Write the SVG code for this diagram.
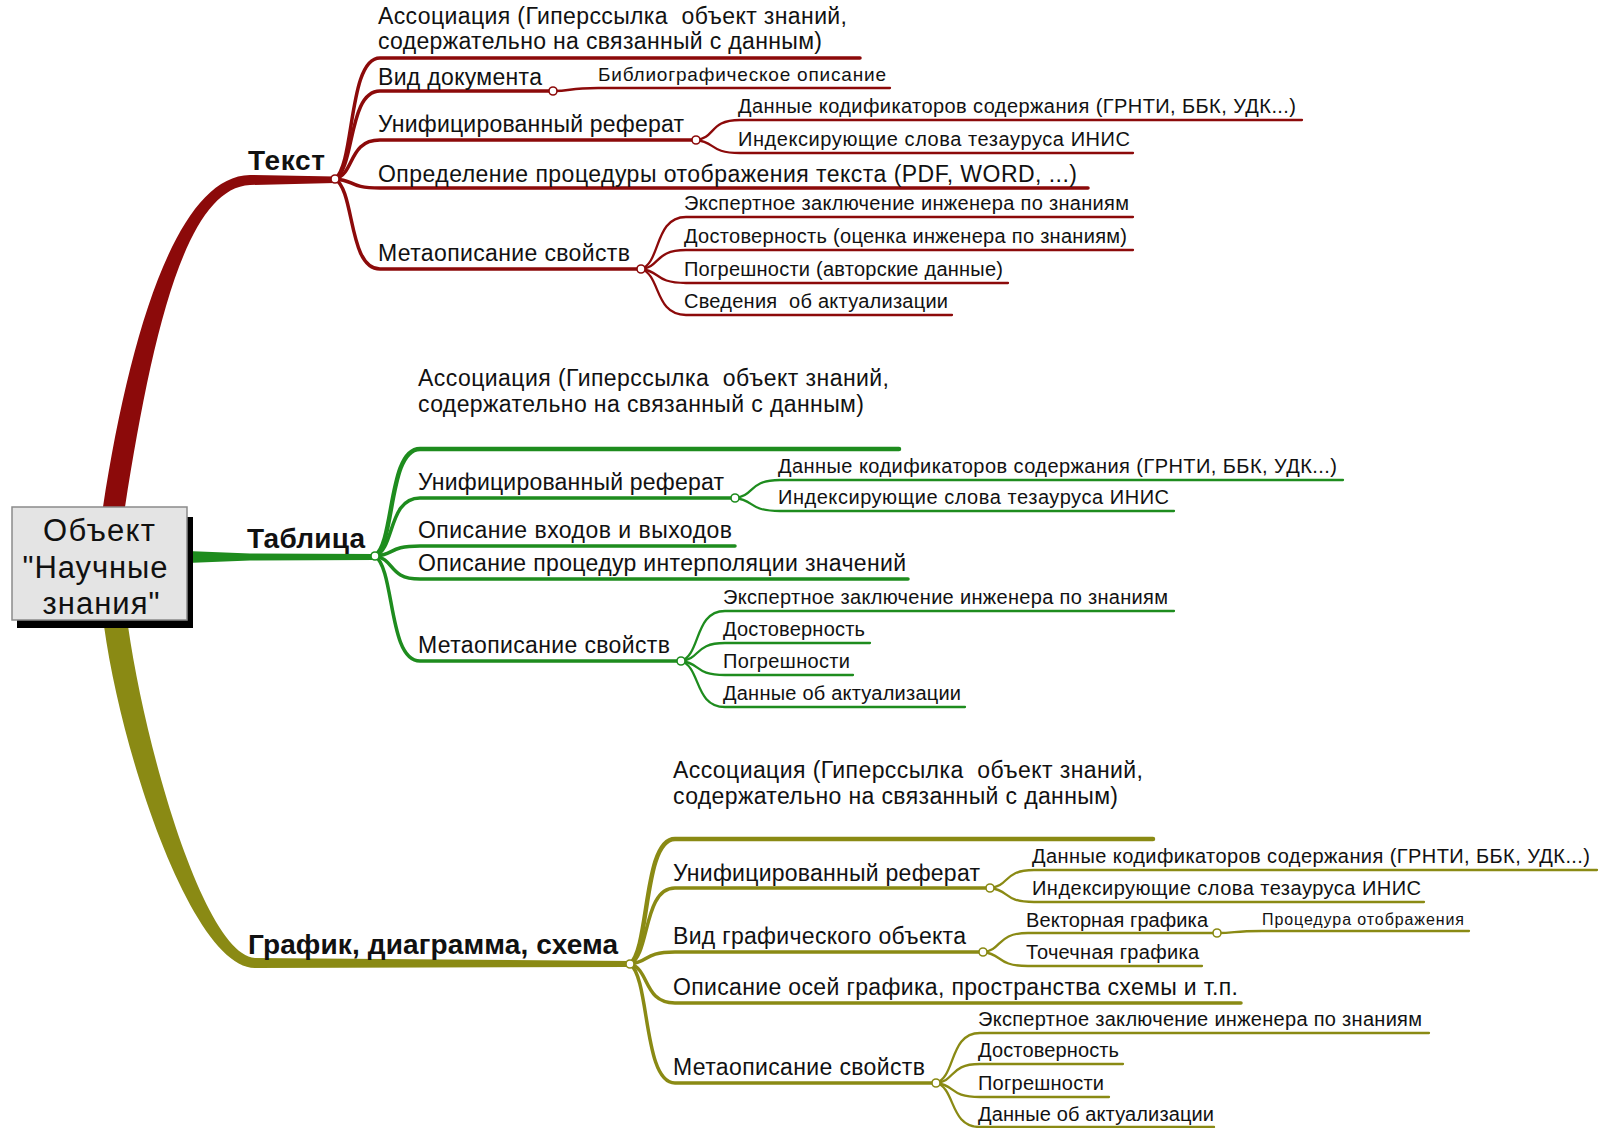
<svg xmlns="http://www.w3.org/2000/svg" width="1600" height="1128" viewBox="0 0 1600 1128">
<style>
text{font-family:"Liberation Sans",Arial,"Noto Sans",sans-serif;fill:#111;white-space:pre}
.c{font-size:31px;text-anchor:middle}
.m{font-size:28px;font-weight:bold}
.l1{font-size:23px}
.l2{font-size:20px}
.l3{font-size:16px}
.e{fill:none;stroke-linecap:round;stroke-linejoin:round}
.r{stroke:#8c0a0a}
.g{stroke:#1e8c1e}
.o{stroke:#8a8a14}
.w1{stroke-width:3.5}
.w2{stroke-width:2.3}
.dot{fill:#fff;stroke-width:1.6}
</style>
<rect width="1600" height="1128" fill="#fff"/>
<g id="connectors">
  <path d="M103,507 C129,338 176,176 250,175 L335,176.5 L335,183 L250,185 C184,188 151,342 125,507 Z" fill="#8c0a0a"/>
  <path d="M187,551 L250,553.5 L375,554 L375,560 L250,560.5 L187,563 Z" fill="#1e8c1e"/>
  <path d="M104,626 C123,762 194,968 255,968 L630,967 L630,961 L255,958 C206,955 147,758 128,626 Z" fill="#8a8a14"/>
  <g class="e r w1">
    <path d="M335,179 C355,164 348,58 380,58 L860,58"/>
    <path d="M335,179 C355,168 348,91 380,91 L553,91"/>
    <path d="M335,179 C355,174 348,140 380,140 L696,140"/>
    <path d="M335,179 C355,180 348,188 380,188 L1088,188"/>
    <path d="M335,179 C355,190 348,269 380,269 L641,269"/>
  </g>
  <g class="e r w2">
    <path d="M553,91 C573,91 567,88 598,88 L890,88"/>
    <path d="M696,140 C716,138 709,120 740,120 L1302,120"/>
    <path d="M696,140 C716,142 709,153 740,153 L1133,153"/>
    <path d="M641,269 C661,263 654,217 686,217 L1133,217"/>
    <path d="M641,269 C661,267 654,250 686,250 L1133,250"/>
    <path d="M641,269 C661,271 654,283 686,283 L1008,283"/>
    <path d="M641,269 C661,275 654,315 686,315 L952,315"/>
  </g>
  <g class="e g w1">
    <path d="M375,556 C395,543 388,449 420,449 L899,449" stroke-width="4.5"/>
    <path d="M375,556 C395,549 388,498 420,498 L735,498"/>
    <path d="M375,556 C395,555 388,546 420,546 L735,546"/>
    <path d="M375,556 C395,559 388,579 420,579 L908,579"/>
    <path d="M375,556 C395,569 388,661 420,661 L681,661"/>
  </g>
  <g class="e g w2">
    <path d="M735,498 C755,496 748,480 780,480 L1343,480"/>
    <path d="M735,498 C755,500 748,511 780,511 L1174,511"/>
    <path d="M681,661 C701,655 694,611 725,611 L1174,611"/>
    <path d="M681,661 C701,659 694,643 725,643 L870,643"/>
    <path d="M681,661 C701,663 694,675 725,675 L853,675"/>
    <path d="M681,661 C701,667 694,707 725,707 L965,707"/>
  </g>
  <g class="e o w1">
    <path d="M630,964 C650,949 643,839 675,839 L1153,839" stroke-width="4.5"/>
    <path d="M630,964 C650,955 643,888 675,888 L990,888"/>
    <path d="M630,964 C650,962 643,952 675,952 L983,952"/>
    <path d="M630,964 C650,969 643,1003 675,1003 L1241,1003"/>
    <path d="M630,964 C650,978 643,1083 675,1083 L936,1083"/>
  </g>
  <g class="e o w2">
    <path d="M990,888 C1010,886 1003,870 1034,870 L1597,870"/>
    <path d="M990,888 C1010,890 1003,902 1034,902 L1424,902"/>
    <path d="M983,952 C1003,950 996,933 1028,933 L1217,933"/>
    <path d="M983,952 C1003,954 996,966 1028,966 L1202,966"/>
    <path d="M1217,933 C1237,933 1232,931 1262,931 L1469,931"/>
    <path d="M936,1083 C956,1077 949,1033 980,1033 L1429,1033"/>
    <path d="M936,1083 C956,1081 949,1064 980,1064 L1123,1064"/>
    <path d="M936,1083 C956,1085 949,1097 980,1097 L1109,1097"/>
    <path d="M936,1083 C956,1088 949,1127 980,1127 L1214,1127"/>
  </g>
</g>

<g id="root">
  <rect x="17" y="517" width="176" height="111" fill="#000"/>
  <rect x="12" y="507" width="175" height="113" fill="#e4e4e4" stroke="#8a8a8a" stroke-width="1.5"/>
  <text class="c" x="99" y="541" textLength="112">Объект</text>
  <text class="c" x="95" y="578" textLength="145">"Научные</text>
  <text class="c" x="101" y="614" textLength="117">знания"</text>
</g>

<g id="n-text">
  <text class="m" x="248" y="170" textLength="77">Текст</text>
  <circle class="dot r" cx="335" cy="179" r="4"/>
</g>
<g id="n-text-assoc">
  <text class="l1" x="378" y="24" textLength="469">Ассоциация (Гиперссылка  объект знаний,</text>
  <text class="l1" x="378" y="49" textLength="444">содержательно на связанный с данным)</text>
</g>
<g id="n-text-vid">
  <text class="l1" x="378" y="85" textLength="164">Вид документа</text>
  <circle class="dot r" cx="553" cy="91" r="4"/>
</g>
<g id="n-text-bibl"><text class="l2" x="598" y="81" textLength="288" style="font-size:19px">Библиографическое описание</text></g>
<g id="n-text-unif">
  <text class="l1" x="378" y="132" textLength="306">Унифицированный реферат</text>
  <circle class="dot r" cx="696" cy="140" r="4"/>
</g>
<g id="n-text-codes"><text class="l2" x="738" y="113" textLength="558">Данные кодификаторов содержания (ГРНТИ, ББК, УДК...)</text></g>
<g id="n-text-inis"><text class="l2" x="738" y="146" textLength="392">Индексирующие слова тезауруса ИНИС</text></g>
<g id="n-text-proc"><text class="l1" x="378" y="182" textLength="699">Определение процедуры отображения текста (PDF, WORD, ...)</text></g>
<g id="n-text-meta">
  <text class="l1" x="378" y="261" textLength="252">Метаописание свойств</text>
  <circle class="dot r" cx="641" cy="269" r="4"/>
</g>
<g id="n-text-expert"><text class="l2" x="684" y="210" textLength="445">Экспертное заключение инженера по знаниям</text></g>
<g id="n-text-dost"><text class="l2" x="684" y="243" textLength="443">Достоверность (оценка инженера по знаниям)</text></g>
<g id="n-text-pogr"><text class="l2" x="684" y="276" textLength="319">Погрешности (авторские данные)</text></g>
<g id="n-text-sved"><text class="l2" x="684" y="308" textLength="264">Сведения  об актуализации</text></g>

<g id="n-table">
  <text class="m" x="247" y="548" textLength="118">Таблица</text>
  <circle class="dot g" cx="375" cy="556" r="4"/>
</g>
<g id="n-table-assoc">
  <text class="l1" x="418" y="386" textLength="471">Ассоциация (Гиперссылка  объект знаний,</text>
  <text class="l1" x="418" y="412" textLength="446">содержательно на связанный с данным)</text>
</g>
<g id="n-table-unif">
  <text class="l1" x="418" y="490" textLength="306">Унифицированный реферат</text>
  <circle class="dot g" cx="735" cy="498" r="4"/>
</g>
<g id="n-table-codes"><text class="l2" x="778" y="473" textLength="559">Данные кодификаторов содержания (ГРНТИ, ББК, УДК...)</text></g>
<g id="n-table-inis"><text class="l2" x="778" y="504" textLength="391">Индексирующие слова тезауруса ИНИС</text></g>
<g id="n-table-io"><text class="l1" x="418" y="538" textLength="314">Описание входов и выходов</text></g>
<g id="n-table-interp"><text class="l1" x="418" y="571" textLength="488">Описание процедур интерполяции значений</text></g>
<g id="n-table-meta">
  <text class="l1" x="418" y="653" textLength="252">Метаописание свойств</text>
  <circle class="dot g" cx="681" cy="661" r="4"/>
</g>
<g id="n-table-expert"><text class="l2" x="723" y="604" textLength="445">Экспертное заключение инженера по знаниям</text></g>
<g id="n-table-dost"><text class="l2" x="723" y="636" textLength="142">Достоверность</text></g>
<g id="n-table-pogr"><text class="l2" x="723" y="668" textLength="127">Погрешности</text></g>
<g id="n-table-akt"><text class="l2" x="723" y="700" textLength="238">Данные об актуализации</text></g>

<g id="n-graph">
  <text class="m" x="248" y="954" textLength="370">График, диаграмма, схема</text>
  <circle class="dot o" cx="630" cy="964" r="4"/>
</g>
<g id="n-graph-assoc">
  <text class="l1" x="673" y="778" textLength="470">Ассоциация (Гиперссылка  объект знаний,</text>
  <text class="l1" x="673" y="804" textLength="445">содержательно на связанный с данным)</text>
</g>
<g id="n-graph-unif">
  <text class="l1" x="673" y="881" textLength="307">Унифицированный реферат</text>
  <circle class="dot o" cx="990" cy="888" r="4"/>
</g>
<g id="n-graph-codes"><text class="l2" x="1032" y="863" textLength="558">Данные кодификаторов содержания (ГРНТИ, ББК, УДК...)</text></g>
<g id="n-graph-inis"><text class="l2" x="1032" y="895" textLength="389">Индексирующие слова тезауруса ИНИС</text></g>
<g id="n-graph-vid">
  <text class="l1" x="673" y="944" textLength="293">Вид графического объекта</text>
  <circle class="dot o" cx="983" cy="952" r="4"/>
</g>
<g id="n-graph-vector">
  <text class="l2" x="1026" y="927" textLength="182">Векторная графика</text>
  <circle class="dot o" cx="1217" cy="933" r="4"/>
</g>
<g id="n-graph-render"><text class="l3" x="1262" y="925" textLength="202">Процедура отображения</text></g>
<g id="n-graph-raster"><text class="l2" x="1026" y="959" textLength="173">Точечная графика</text></g>
<g id="n-graph-axes"><text class="l1" x="673" y="995" textLength="565">Описание осей графика, пространства схемы и т.п.</text></g>
<g id="n-graph-meta">
  <text class="l1" x="673" y="1075" textLength="252">Метаописание свойств</text>
  <circle class="dot o" cx="936" cy="1083" r="4"/>
</g>
<g id="n-graph-expert"><text class="l2" x="978" y="1026" textLength="444">Экспертное заключение инженера по знаниям</text></g>
<g id="n-graph-dost"><text class="l2" x="978" y="1057" textLength="141">Достоверность</text></g>
<g id="n-graph-pogr"><text class="l2" x="978" y="1090" textLength="126">Погрешности</text></g>
<g id="n-graph-akt"><text class="l2" x="978" y="1121" textLength="236">Данные об актуализации</text></g>
</svg>
